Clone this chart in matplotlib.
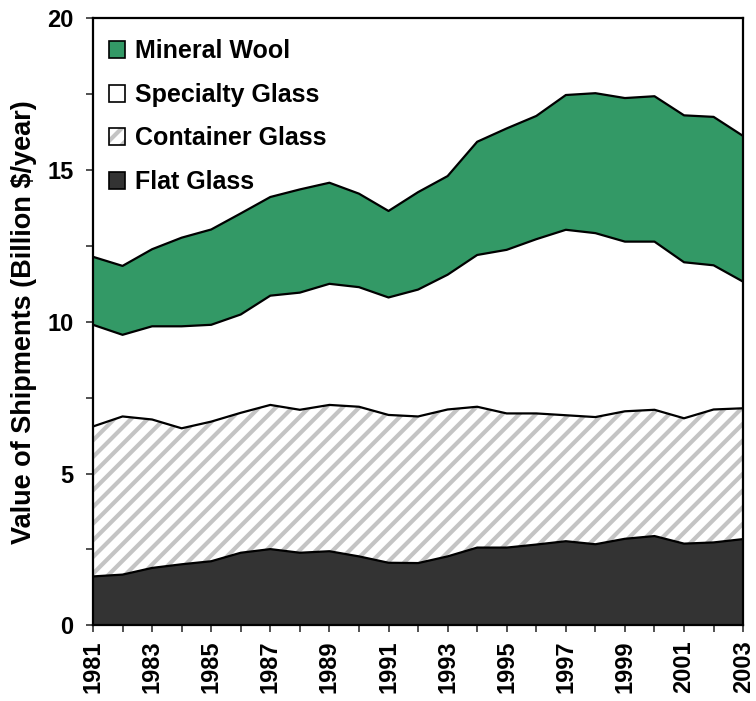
import numpy as np
import matplotlib
matplotlib.use("Agg")
import matplotlib.pyplot as plt
from matplotlib.patches import Patch
from matplotlib.legend_handler import HandlerTuple
from matplotlib.ticker import MultipleLocator

plt.rcParams['font.family'] = ['Liberation Sans', 'DejaVu Sans']
plt.rcParams['font.weight'] = 'bold'
plt.rcParams['hatch.color'] = '#c4c4c4'
plt.rcParams['hatch.linewidth'] = 3.0

years = list(range(1981, 2004))
year_labels = [str(y) for y in years[::2]]

flat_glass = [1.61, 1.67, 1.89, 2.01, 2.11, 2.39, 2.51, 2.39, 2.44, 2.27, 2.06, 2.05,
              2.27, 2.56, 2.56, 2.66, 2.77, 2.67, 2.85, 2.94, 2.69, 2.73, 2.84]
container_glass = [4.94, 5.21, 4.89, 4.48, 4.60, 4.61, 4.75, 4.71, 4.82, 4.93, 4.87, 4.83,
                   4.84, 4.64, 4.42, 4.32, 4.15, 4.19, 4.20, 4.16, 4.13, 4.38, 4.31]
specialty_glass = [3.35, 2.69, 3.07, 3.36, 3.19, 3.24, 3.60, 3.86, 3.99, 3.94, 3.87, 4.18,
                   4.44, 5.00, 5.39, 5.74, 6.11, 6.06, 5.59, 5.54, 5.14, 4.75, 4.17]
mineral_wool = [2.24, 2.27, 2.54, 2.92, 3.14, 3.33, 3.25, 3.40, 3.33, 3.08, 2.85, 3.21,
                3.25, 3.73, 4.00, 4.06, 4.44, 4.61, 4.73, 4.79, 4.84, 4.89, 4.80]

labels = ['Flat Glass', 'Container Glass', 'Specialty Glass', 'Mineral Wool']
colors = ['#333333', 'white', 'white', '#339966']
hatches = [None, '//', None, None]

fig = plt.figure(figsize=(7.56, 7.01), dpi=100)
ax = fig.add_axes([0.123, 0.108, 0.860, 0.866])

series = [flat_glass, container_glass, specialty_glass, mineral_wool]
x = np.array(years)
base = np.zeros(len(years))
for vals, c, h in zip(series, colors, hatches):
    top = base + np.array(vals)
    ax.fill_between(x, base, top, facecolor=c, hatch=h, linewidth=0, zorder=1)
    ax.plot(x, top, color='black', lw=1.6, zorder=3)
    base = top

ax.set_xlim(1981, 2003)
ax.set_ylim(0, 20)
ax.set_xticks(years[::2])
ax.set_xticklabels(year_labels)
ax.set_xticks(years, minor=True)
ax.yaxis.set_major_locator(MultipleLocator(5))
ax.yaxis.set_minor_locator(MultipleLocator(2.5))
ax.tick_params(axis='both', which='both', direction='out', length=5, width=1.2, color='#333333')
ax.tick_params(axis='x', labelsize=17, rotation=90, pad=6)
ax.tick_params(axis='y', labelsize=17, pad=9)
for lab in ax.get_xticklabels() + ax.get_yticklabels():
    lab.set_fontweight('bold')

for s in ax.spines.values():
    s.set_linewidth(1.6)
    s.set_color('black')
    s.set_zorder(4)

ax.set_ylabel('Value of Shipments (Billion $/year)', fontsize=19.5, fontweight='bold', labelpad=7)

def legend_handle(i):
    fill = Patch(facecolor=colors[i], edgecolor='#c4c4c4' if hatches[i] else colors[i],
                 hatch=hatches[i], linewidth=0)
    border = Patch(facecolor='none', edgecolor='black', linewidth=1.2)
    return (fill, border)

order = [3, 2, 1, 0]
leg = ax.legend([legend_handle(i) for i in order], [labels[i] for i in order],
                handler_map={tuple: HandlerTuple(ndivide=1, pad=0)},
                loc='upper left', bbox_to_anchor=(-0.008, 1.0),
                frameon=False, handlelength=0.65, handleheight=0.65,
                handletextpad=0.4, labelspacing=0.78, borderaxespad=0.45,
                prop={'weight': 'bold', 'size': 18})
leg.set_zorder(5)

fig.savefig('out.png', dpi=100)
